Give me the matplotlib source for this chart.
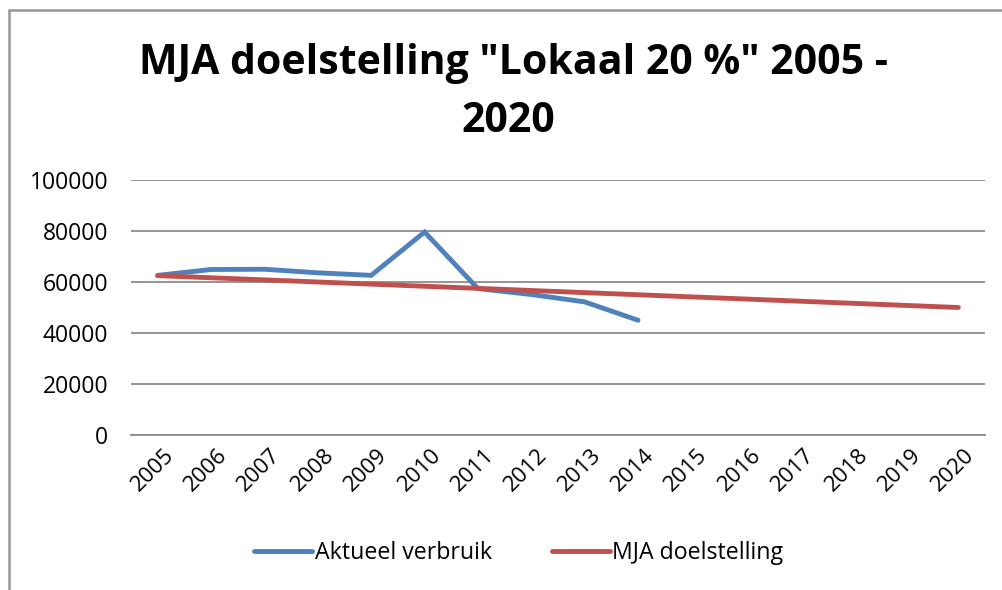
import matplotlib
matplotlib.use("Agg")
import matplotlib.pyplot as plt
from matplotlib.patches import Rectangle
from matplotlib.transforms import ScaledTranslation

years = ["2005", "2006", "2007", "2008", "2009", "2010", "2011", "2012",
         "2013", "2014", "2015", "2016", "2017", "2018", "2019", "2020"]
actual = [62600, 64900, 65000, 63600, 62600, 79600, 57400, 55100, 52200, 45000]
target = [62500, 61667, 60833, 60000, 59167, 58333, 57500, 56667,
          55833, 55000, 54167, 53333, 52500, 51667, 50833, 50000]
yticks = [0, 20000, 40000, 60000, 80000, 100000]

plt.rcParams['font.family'] = ['Open Sans', 'DejaVu Sans']

fig = plt.figure(figsize=(10.02, 5.90), dpi=100)
fig.patches.append(Rectangle((9/1002, -0.1), 1.2, 1 - 10/590 + 0.1,
                             transform=fig.transFigure, fill=False,
                             edgecolor='#969696', linewidth=1.8))

ax = fig.add_axes([131/1002, 1 - 435/590, (985 - 131)/1002, (435 - 180)/590])
x = list(range(len(years)))
ax.plot(x[:len(actual)], actual, color='#4F81BD', linewidth=3.5,
        solid_capstyle='round', solid_joinstyle='miter', label='Aktueel verbruik', zorder=3)
ax.plot(x, target, color='#C0504D', linewidth=3.5,
        solid_capstyle='round', label='MJA doelstelling', zorder=3)

ax.set_xlim(-0.5, len(years) - 0.5)
ax.set_ylim(0, 100000)
ax.set_yticks(yticks)
ax.set_yticklabels([str(v) for v in yticks], fontsize=16.5)
ax.yaxis.grid(True, color='#8c8c8c', linewidth=1.3)
ax.set_axisbelow(True)
ax.tick_params(axis='y', length=0, pad=16.5)
ax.tick_params(axis='x', length=0, pad=0)
ax.set_xticks(x)
ax.set_xticklabels(years, fontsize=16, rotation=45, ha='right',
                   rotation_mode='anchor', va='center')
off = ScaledTranslation(13/100, -17/100, fig.dpi_scale_trans)
for lbl in ax.get_xticklabels():
    lbl.set_transform(lbl.get_transform() + off)
for s in ['top', 'right', 'left']:
    ax.spines[s].set_visible(False)
ax.spines['bottom'].set_color('#8c8c8c')
ax.spines['bottom'].set_linewidth(1.3)

fig.text(0.512, 1 - 64/590, 'MJA doelstelling "Lokaal 20 %" 2005 -',
         ha='center', va='center', fontsize=29.5, fontweight='bold')
fig.text(0.507, 1 - 121/590, '2020',
         ha='center', va='center', fontsize=29.5, fontweight='bold')

leg = fig.legend(loc='center', bbox_to_anchor=(0.518, 1 - 553/590), ncol=2,
                 frameon=False, fontsize=16.7, handlelength=2.5, handletextpad=0.1,
                 columnspacing=2.6)

fig.savefig('out.png', dpi=100)
